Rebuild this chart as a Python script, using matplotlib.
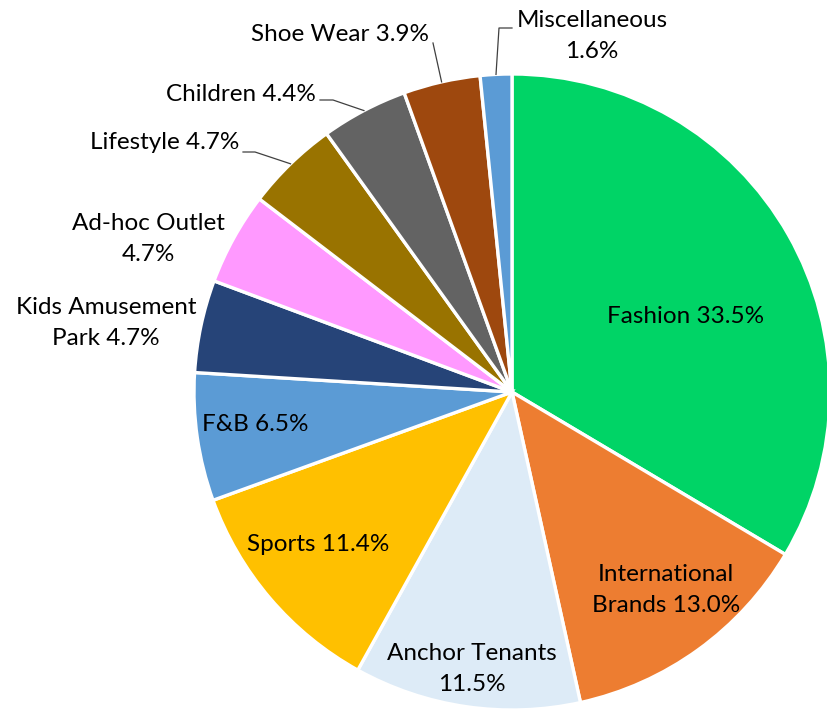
import numpy as np
import matplotlib.pyplot as plt

plt.rcParams['font.family'] = ['Lato', 'DejaVu Sans']

categories = ['Fashion', 'International Brands', 'Anchor Tenants', 'Sports', 'F&B',
              'Kids Amusement Park', 'Ad-hoc Outlet', 'Lifestyle', 'Children',
              'Shoe Wear', 'Miscellaneous']
shares = [33.5, 13.0, 11.5, 11.4, 6.5, 4.7, 4.7, 4.7, 4.4, 3.9, 1.6]
colors = ['#00D466', '#ED7D31', '#DDEBF7', '#FFC000', '#5B9BD5', '#264478',
          '#FF99FF', '#997300', '#636363', '#9E480E', '#5B9BD5']

# label text (line breaks as in the picture)
label_text = ['Fashion 33.5%', 'International\nBrands 13.0%', 'Anchor Tenants\n11.5%',
              'Sports 11.4%', 'F&B 6.5%', 'Kids Amusement\nPark 4.7%',
              'Ad-hoc Outlet\n4.7%', 'Lifestyle 4.7%', 'Children 4.4%',
              'Shoe Wear 3.9%', 'Miscellaneous\n1.6%']

W, H = 828, 712
CX, CY, R = 512, 392, 318

def px(x, y):
    # pixel position -> data coords (pie radius = 1)
    return (x - CX) / R, (CY - y) / R

fig = plt.figure(figsize=(W / 100, H / 100), dpi=100)
ax = fig.add_axes([0, 0, 1, 1])
wedges, _ = ax.pie(shares, colors=colors, startangle=90, counterclock=False,
                   wedgeprops=dict(edgecolor='white', linewidth=2.4))
ax.set_xlim(-CX / R, (W - CX) / R)
ax.set_ylim((CY - H) / R, CY / R)
ax.set_aspect('equal')
ax.axis('off')

# label placement: (pixel x, pixel y, ha)
label_pos = [(686, 317, 'center'), (666, 590, 'center'), (472, 669, 'center'),
             (318, 545, 'center'), (255, 425, 'center'), (106, 323, 'center'),
             (148, 239, 'center'), (239, 143, 'right'), (316, 95, 'right'),
             (429, 35, 'right'), (592, 36, 'center')]

for t, (x, y, ha) in zip(label_text, label_pos):
    lx, ly = px(x, y)
    ax.text(lx, ly, t, ha=ha, va='center', fontsize=17.5, color='black',
            linespacing=1.6)

# leader lines for the small outer slices
leaders = {7: [(243, 152), (255, 152)],
           8: [(320, 100), (333, 100)],
           9: [(433, 43)],
           10: [(512, 28), (499, 28)]}
for i, pts in leaders.items():
    w = wedges[i]
    ang = np.deg2rad((w.theta1 + w.theta2) / 2)
    xs = [px(*p)[0] for p in pts] + [np.cos(ang)]
    ys = [px(*p)[1] for p in pts] + [np.sin(ang)]
    ax.plot(xs, ys, color='#404040', lw=0.9, clip_on=False)

plt.savefig('out.png', dpi=100)
